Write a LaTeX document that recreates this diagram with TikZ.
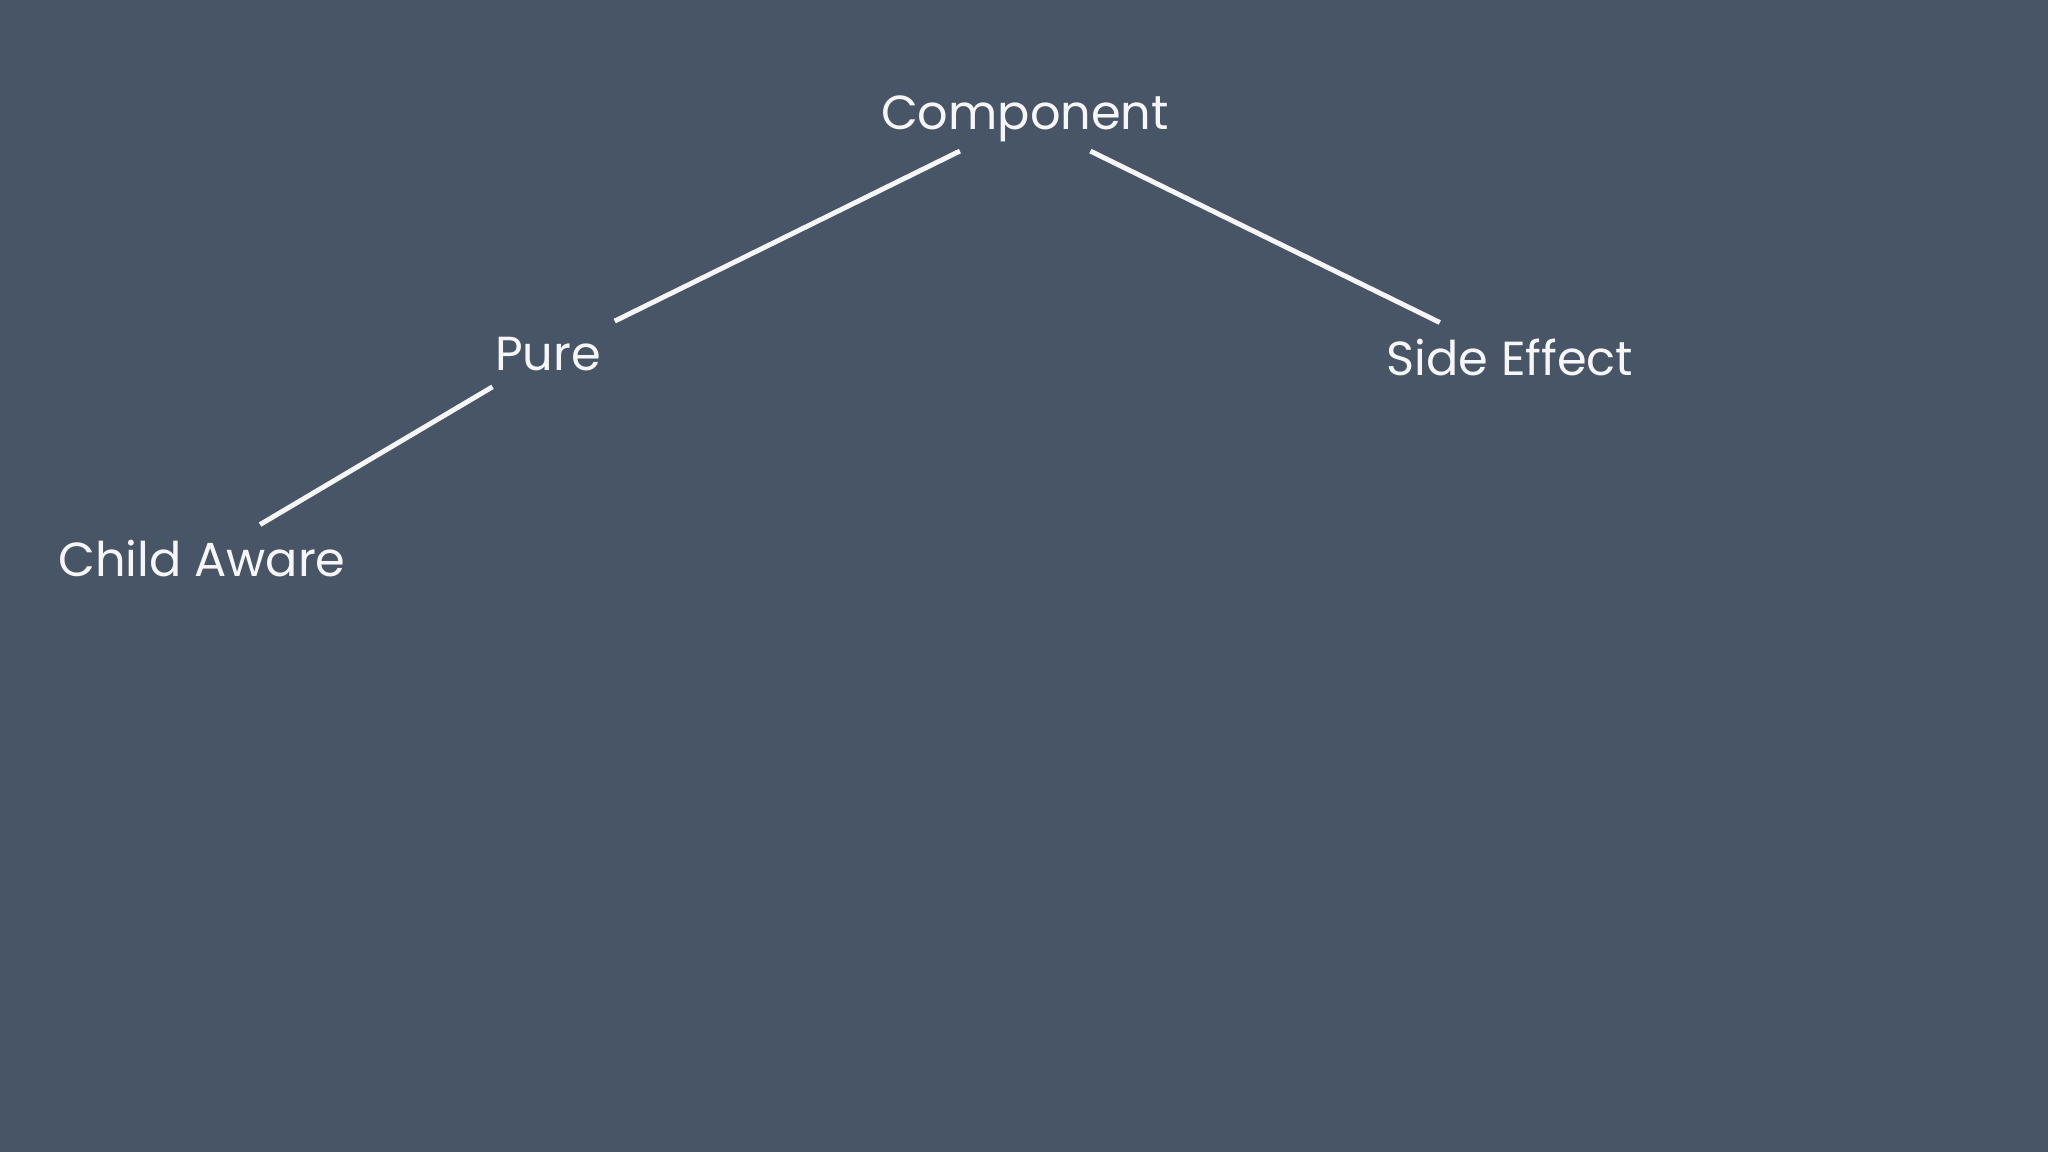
\documentclass[tikz,border=0pt]{standalone}
\usepackage{fontspec}
\setmainfont{Poppins}
\usepackage{tikz}
\usetikzlibrary{positioning}

\definecolor{slate}{RGB}{71,85,102}
\definecolor{chalk}{RGB}{246,246,246}

\begin{document}
\begin{tikzpicture}[inner sep=0.16cm,outer sep=0pt]
	\fill[slate] (0,0) rectangle (20.48,11.52);
	\tikzset{every node/.style={text=chalk,font=\fontsize{13.6}{16}\selectfont}}
	\node (Comp)  at (10.25,10.33) [inner sep=0.09cm] {Component};
	\node (Pure)  at (5.48,7.98)   {Pure};
	\node (Side)  at (15.10,7.95)  {Side Effect};
	\node (Child) at (2.02,5.93)   {Child Aware};
	\tikzset{treeline/.style={-,draw=chalk,line width=1.4pt}}
	\path
	(Comp)  edge [treeline]  (Pure)
	(Comp)  edge [treeline]  (Side)
	(Pure)  edge [treeline]  (Child);
	
\end{tikzpicture}
\end{document}
